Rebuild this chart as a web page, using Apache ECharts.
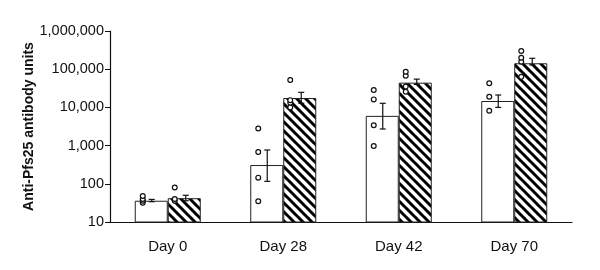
<!DOCTYPE html>
<html>
<head>
<meta charset="utf-8">
<script src="https://cdn.jsdelivr.net/npm/echarts@6/dist/echarts.min.js"></script>
<style>
  html, body { margin: 0; padding: 0; background: #fff; }
  #chart { width: 600px; height: 270px; }
</style>
</head>
<body>
<div id="chart"></div>
<script>
// data
var categories = ['Day 0', 'Day 28', 'Day 42', 'Day 70'];
var yTicks = [10, 100, 1000, 10000, 100000, 1000000];

// open bars (group 1)
var openMean = [36, 310, 6000, 14700];
var openLow = [34, 116, 2720, 10000];
var openHigh = [39, 767, 12800, 21100];
var openPoints = [
    [32, 36, 40, 48],
    [35, 145, 680, 2800],
    [980, 3400, 16200, 28500],
    [8200, 19000, 42800]
];

// hatched bars (group 2)
var hatchMean = [42, 17600, 44400, 143000];
var hatchLow = [36, 12800, 40000, 129000];
var hatchHigh = [50, 24800, 55000, 193000];
var hatchPoints = [
    [36, 40, 80],
    [10000, 13200, 15500, 52000],
    [25700, 35000, 67500, 86000],
    [63000, 157000, 200000, 299000]
];

//斜线填充
function hatchPattern() {
    var size = 9;
    var c = document.createElement('canvas');
    c.width = size;
    c.height = size;
    var ctx = c.getContext('2d');
    ctx.fillStyle = '#fff';
    ctx.fillRect(0, 0, size, size);
    ctx.strokeStyle = '#000';
    ctx.lineWidth = 3;
    [-size, 0, size].forEach(function (k) {
        ctx.beginPath();
        ctx.moveTo(k - 1, -1);
        ctx.lineTo(k + size + 1, size + 1);
        ctx.stroke();
    });
    return c;
}

function toPts(list) {
    var out = [];
    list.forEach(function (vals, i) {
        vals.forEach(function (v) { out.push([i, v]); });
    });
    return out;
}

function toErr(low, high) {
    return low.map(function (l, i) { return [i, l, high[i]]; });
}

function pointRender(offset) {
    return function (params, api) {
        var p = api.coord([api.value(0), api.value(1)]);
        return {
            type: 'circle',
            shape: { cx: p[0] + offset, cy: p[1], r: 2.4 },
            style: { fill: '#fff', stroke: '#111', lineWidth: 1.2 }
        };
    };
}

function errRender(offset) {
    return function (params, api) {
        var lo = api.coord([api.value(0), api.value(1)]);
        var hi = api.coord([api.value(0), api.value(2)]);
        var x = lo[0] + offset;
        var st = { stroke: '#111', lineWidth: 1.2 };
        return {
            type: 'group',
            children: [
                { type: 'line', shape: { x1: x, y1: lo[1], x2: x, y2: hi[1] }, style: st },
                { type: 'line', shape: { x1: x - 3, y1: lo[1], x2: x + 3, y2: lo[1] }, style: st },
                { type: 'line', shape: { x1: x - 3, y1: hi[1], x2: x + 3, y2: hi[1] }, style: st }
            ]
        };
    };
}

var myChart = echarts.init(document.getElementById('chart'), null, { renderer: 'canvas' });

var option = {
    animation: false,
    backgroundColor: '#fff',
    grid: { left: 110, right: 28, top: 31, bottom: 48 },
    xAxis: {
        type: 'category',
        data: categories,
        axisLine: { lineStyle: { color: '#111', width: 1.2 } },
        axisTick: { show: false },
        axisLabel: {
            color: '#111',
            fontFamily: 'Liberation Sans, Arial',
            fontSize: 15,
            margin: 17
        }
    },
    yAxis: {
        type: 'log',
        logBase: 10,
        min: yTicks[0],
        max: yTicks[yTicks.length - 1],
        name: 'Anti-Pfs25 antibody units',
        nameLocation: 'middle',
        nameGap: 74,
        nameMoveOverlap: false,
        nameTextStyle: {
            color: '#111',
            fontFamily: 'Liberation Sans, Arial',
            fontWeight: 'bold',
            fontSize: 14
        },
        splitLine: { show: false },
        axisLine: { show: true, lineStyle: { color: '#111', width: 1.2 } },
        axisTick: { show: true, length: 5, lineStyle: { color: '#111' } },
        axisLabel: {
            color: '#111',
            fontFamily: 'Liberation Sans, Arial',
            fontSize: 14.5,
            margin: 6,
            formatter: function (v) { return Math.round(v).toLocaleString('en-US'); }
        }
    },
    series: [
        {
            type: 'bar',
            data: openMean,
            barWidth: 33,
            barGap: '0%',
            itemStyle: { color: '#fff', borderColor: '#222', borderWidth: 1 },
            z: 2
        },
        {
            type: 'bar',
            data: hatchMean,
            barWidth: 33,
            itemStyle: { color: { image: hatchPattern(), repeat: 'repeat' }, borderColor: '#222', borderWidth: 1 },
            z: 2
        },
        {
            type: 'custom',
            data: toErr(openLow, openHigh),
            renderItem: errRender(-16),
            z: 5
        },
        {
            type: 'custom',
            data: toErr(hatchLow, hatchHigh),
            renderItem: errRender(18),
            z: 5
        },
        {
            type: 'custom',
            data: toPts(openPoints),
            renderItem: pointRender(-25),
            z: 6
        },
        {
            type: 'custom',
            data: toPts(hatchPoints),
            renderItem: pointRender(7),
            z: 6
        }
    ]
};

myChart.setOption(option);
window.onresize = function () {
    myChart.resize();
};
</script>
</body>
</html>
